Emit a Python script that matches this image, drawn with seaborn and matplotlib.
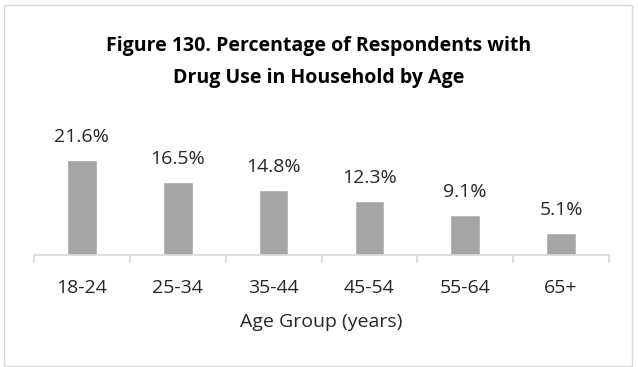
import matplotlib
matplotlib.use("Agg")
import matplotlib.pyplot as plt
import seaborn as sns
import pandas as pd
from matplotlib.patches import Rectangle

categories = ["18-24", "25-34", "35-44", "45-54", "55-64", "65+"]
values = [21.6, 16.5, 14.8, 12.3, 9.1, 5.1]
labels = ["21.6%", "16.5%", "14.8%", "12.3%", "9.1%", "5.1%"]

sns.set_theme(style="white")
plt.rcParams['font.family'] = ['Open Sans', 'DejaVu Sans']

df = pd.DataFrame({"Age": categories, "Pct": values})

fig = plt.figure(figsize=(6.38, 3.67), dpi=100)
ax = fig.add_axes([34/638, 1-255/367, (609-34)/638, 110/367])
sns.barplot(data=df, x="Age", y="Pct", color="#a5a5a5", width=0.31, ax=ax, saturation=1)
ax.set_ylim(0, 25)
ax.set_xlim(-0.5, len(categories)-0.5)

for p, lab in zip(ax.patches, labels):
    ax.annotate(lab, (p.get_x()+p.get_width()/2, p.get_height()), xytext=(0, 13),
                textcoords="offset points", ha="center", va="baseline", fontsize=14, color="#262626")

for s in ["top", "right", "left"]:
    ax.spines[s].set_visible(False)
ax.spines["bottom"].set_color("#d9d9d9")
ax.spines["bottom"].set_linewidth(1.2)
ax.set_yticks([])
ax.set_xticks(range(len(categories)))
ax.set_xticklabels(categories, fontsize=14, color="#262626")
ax.tick_params(axis="x", which="major", length=0, pad=17)
ax.set_xticks([i-0.5 for i in range(len(categories)+1)], minor=True)
ax.tick_params(axis="x", which="minor", length=6, width=1.2, color="#d9d9d9", direction="out", bottom=True)
ax.set_xlabel("Age Group (years)", fontsize=14, color="#262626", labelpad=12)
ax.set_ylabel("")

fig.text(0.5, 1-46/367, "Figure 130. Percentage of Respondents with", ha="center", va="center",
         fontsize=14, fontweight="bold", color="#000000")
fig.text(0.5, 1-78/367, "Drug Use in Household by Age", ha="center", va="center",
         fontsize=14, fontweight="bold", color="#000000")

fig.patches.append(Rectangle((4/638, 0.002), 628/638, 1-5/367-0.002, transform=fig.transFigure,
                             fill=False, edgecolor="#d9d9d9", linewidth=1))
fig.savefig("out.png", dpi=100)
